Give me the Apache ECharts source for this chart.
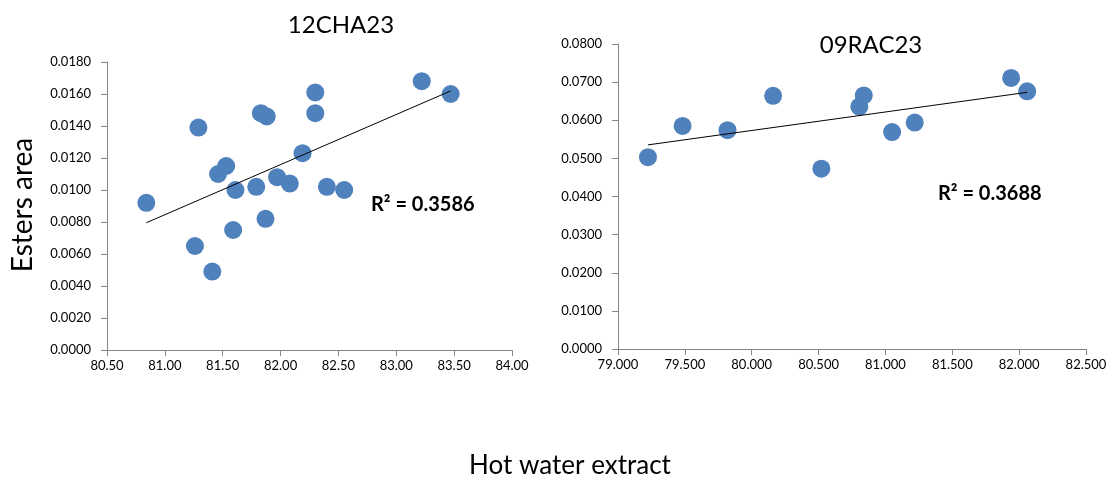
<!DOCTYPE html>
<html>
<head>
<meta charset="utf-8">
<script src="https://cdn.jsdelivr.net/npm/echarts@6/dist/echarts.min.js"></script>
<style>
  html, body { margin: 0; padding: 0; background: #fff; }
  #chart { width: 1112px; height: 482px; }
</style>
</head>
<body>
<div id="chart"></div>
<script>
// 12CHA23 data: hot water extract vs esters area
var chaX = [80.84, 81.29, 81.26, 81.41, 81.46, 81.53, 81.61, 81.59, 81.79, 81.83, 81.88,
  81.87, 81.97, 82.08, 82.19, 82.30, 82.30, 82.40, 82.55, 83.22, 83.47];
var chaY = [0.0092, 0.0139, 0.0065, 0.0049, 0.0110, 0.0115, 0.0100, 0.0075, 0.0102, 0.0148, 0.0146,
  0.0082, 0.0108, 0.0104, 0.0123, 0.0161, 0.0148, 0.0102, 0.0100, 0.0168, 0.0160];
// 09RAC23 data
var racX = [79.224, 79.483, 79.819, 80.160, 80.521, 80.805, 80.838, 81.050, 81.219, 81.940, 82.060];
var racY = [0.0503, 0.0585, 0.0574, 0.0664, 0.0473, 0.0636, 0.0665, 0.0569, 0.0594, 0.0711, 0.0676];

var chaR2 = "0.3586";
var racR2 = "0.3688";

var font = "Lato, 'Open Sans', sans-serif";
var blue = "#4F81BD";

function pairs(xs, ys) {
  return xs.map(function (x, i) { return [x, ys[i]]; });
}

// least squares trendline over the x range
function trend(xs, ys) {
  var n = xs.length, sx = 0, sy = 0, sxx = 0, sxy = 0;
  for (var i = 0; i < n; i++) {
    sx += xs[i]; sy += ys[i]; sxx += xs[i] * xs[i]; sxy += xs[i] * ys[i];
  }
  var b = (n * sxy - sx * sy) / (n * sxx - sx * sx);
  var a = (sy - b * sx) / n;
  var lo = Math.min.apply(null, xs), hi = Math.max.apply(null, xs);
  return [[lo, a + b * lo], [hi, a + b * hi]];
}

function xAxis(idx, min, max, interval, digits) {
  return {
    gridIndex: idx, type: "value", min: min, max: max, interval: interval,
    axisLine: { show: true, lineStyle: { color: "#868686" } },
    axisTick: { show: true, length: 6, lineStyle: { color: "#868686" } },
    splitLine: { show: false },
    axisLabel: { color: "#000", fontFamily: font, fontSize: 13, margin: 9,
      formatter: function (v) { return v.toFixed(digits); } }
  };
}
function yAxis(idx, max, interval) {
  return {
    gridIndex: idx, type: "value", min: 0, max: max, interval: interval,
    axisLine: { show: true, lineStyle: { color: "#868686" } },
    axisTick: { show: true, length: 6, lineStyle: { color: "#868686" } },
    splitLine: { show: false },
    axisLabel: { color: "#000", fontFamily: font, fontSize: 13, margin: 16,
      formatter: function (v) { return v.toFixed(4); } }
  };
}

var chart = echarts.init(document.getElementById("chart"));
chart.setOption({
  animation: false,
  title: [
    { text: "12CHA23", left: 336, top: 8, textAlign: "center",
      textStyle: { fontFamily: font, fontSize: 24, fontWeight: "normal", color: "#000" } },
    { text: "09RAC23", left: 866, top: 28, textAlign: "center",
      textStyle: { fontFamily: font, fontSize: 24, fontWeight: "normal", color: "#000" } }
  ],
  graphic: [
    { type: "text", x: 23, y: 205, rotation: Math.PI / 2,
      style: { text: "Esters area", font: "28px " + font, fill: "#000",
        align: "center", verticalAlign: "middle" } },
    { type: "text", x: 570, y: 466,
      style: { text: "Hot water extract", font: "26px " + font, fill: "#000",
        align: "center", verticalAlign: "middle" } },
    { type: "text", left: 371, top: 195,
      style: { text: "R² = " + chaR2, font: "bold 20px " + font, fill: "#000" } },
    { type: "text", left: 938, top: 184,
      style: { text: "R² = " + racR2, font: "bold 20px " + font, fill: "#000" } }
  ],
  grid: [
    { left: 107, right: 600, top: 62, bottom: 132 },
    { left: 618, right: 26, top: 44, bottom: 133 }
  ],
  xAxis: [xAxis(0, 80.5, 84, 0.5, 2), xAxis(1, 79, 82.5, 0.5, 3)],
  yAxis: [yAxis(0, 0.018, 0.002), yAxis(1, 0.08, 0.01)],
  series: [
    { type: "scatter", xAxisIndex: 0, yAxisIndex: 0, symbolSize: 18,
      itemStyle: { color: blue, opacity: 1 }, data: pairs(chaX, chaY) },
    { type: "line", xAxisIndex: 0, yAxisIndex: 0, symbol: "none",
      lineStyle: { color: "#000", width: 1 }, data: trend(chaX, chaY), z: 3 },
    { type: "scatter", xAxisIndex: 1, yAxisIndex: 1, symbolSize: 18,
      itemStyle: { color: blue, opacity: 1 }, data: pairs(racX, racY) },
    { type: "line", xAxisIndex: 1, yAxisIndex: 1, symbol: "none",
      lineStyle: { color: "#000", width: 1 }, data: trend(racX, racY), z: 3 }
  ]
});
</script>
</body>
</html>
